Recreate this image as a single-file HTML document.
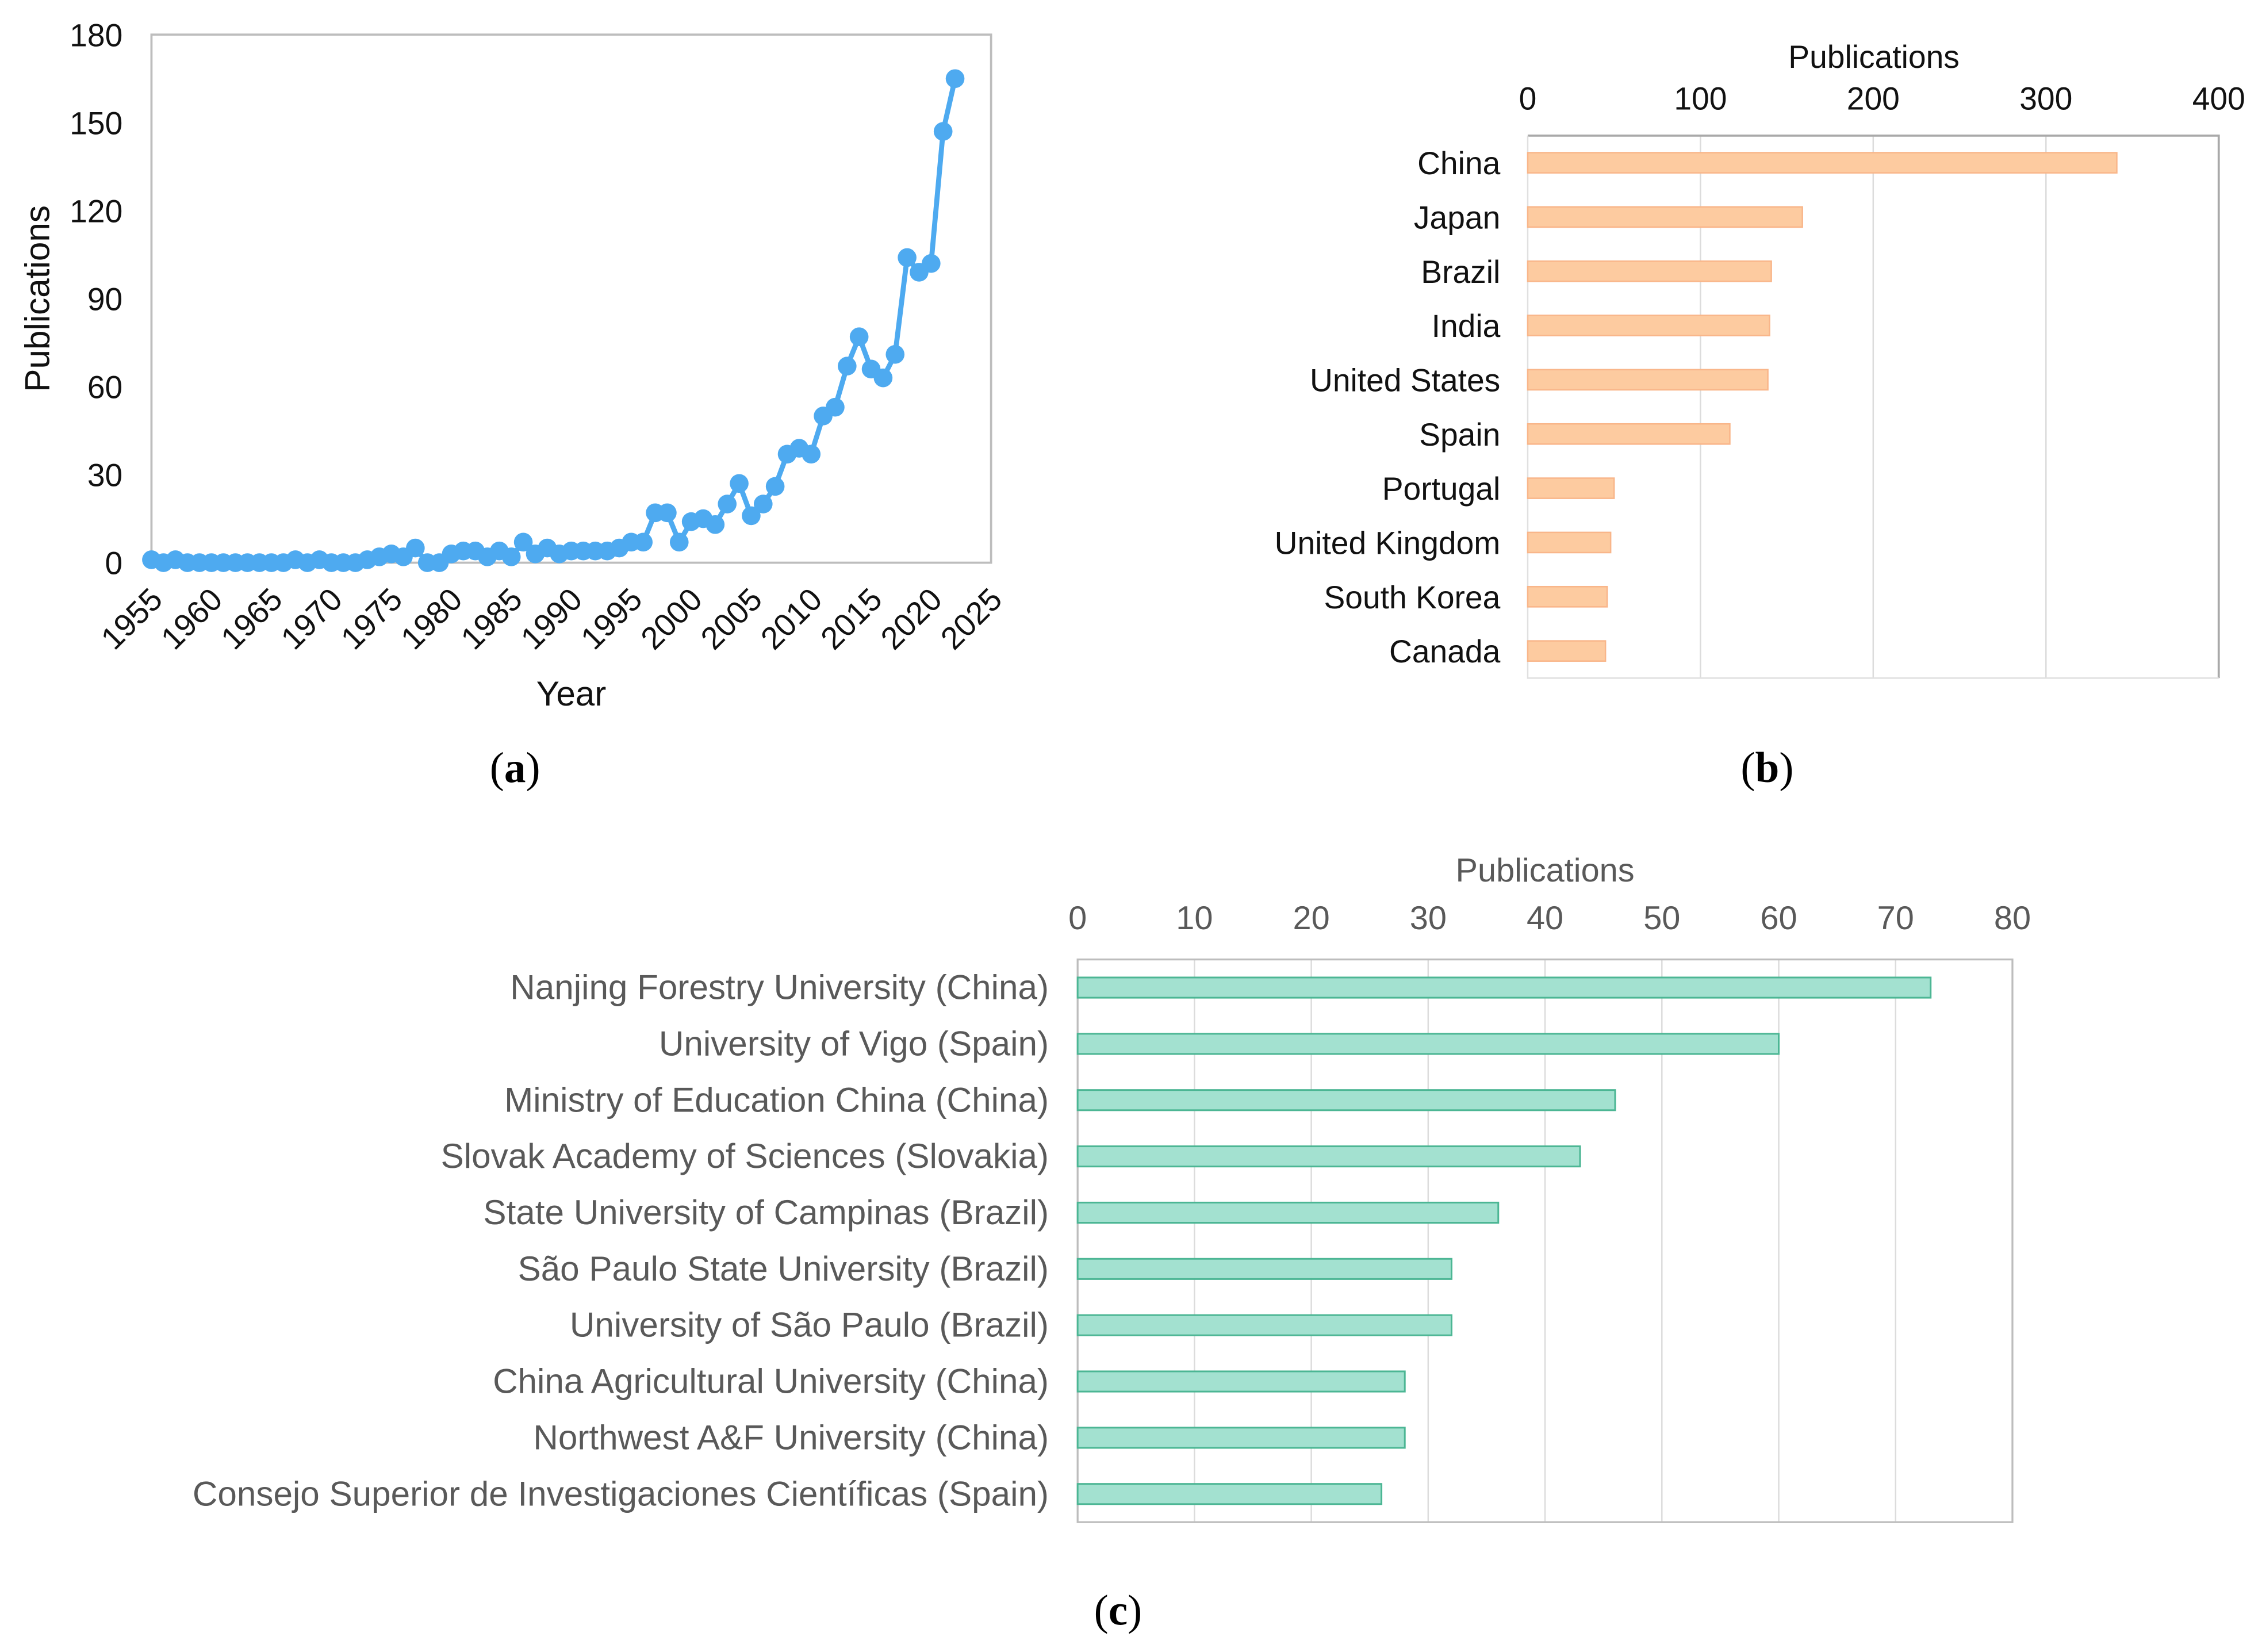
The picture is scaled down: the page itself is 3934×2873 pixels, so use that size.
<!DOCTYPE html>
<html><head><meta charset="utf-8">
<style>
html,body{margin:0;padding:0;background:#fff;}
svg{display:block;font-family:"Liberation Sans",sans-serif;}
</style></head>
<body>
<svg id="fig" width="3934" height="2873" viewBox="0 0 1568 1145" preserveAspectRatio="none" xmlns="http://www.w3.org/2000/svg">
<g id="pa"></g>
<g id="pb"></g>
<g id="pc"></g>
<text x="357" y="542" text-anchor="middle" font-family="Liberation Serif,serif" font-size="30">(<tspan font-weight="bold">a</tspan>)</text>
<text x="1225" y="542" text-anchor="middle" font-family="Liberation Serif,serif" font-size="30">(<tspan font-weight="bold">b</tspan>)</text>
<text x="775" y="1126" text-anchor="middle" font-family="Liberation Serif,serif" font-size="30">(<tspan font-weight="bold">c</tspan>)</text>
</svg>
<script>
const years = [1955,1956,1957,1958,1959,1960,1961,1962,1963,1964,1965,1966,1967,1968,1969,1970,1971,1972,1973,1974,1975,1976,1977,1978,1979,1980,1981,1982,1983,1984,1985,1986,1987,1988,1989,1990,1991,1992,1993,1994,1995,1996,1997,1998,1999,2000,2001,2002,2003,2004,2005,2006,2007,2008,2009,2010,2011,2012,2013,2014,2015,2016,2017,2018,2019,2020,2021,2022];
const pubs = [1,0,1,0,0,0,0,0,0,0,0,0,1,0,1,0,0,0,1,2,3,2,5,0,0,3,4,4,2,4,2,7,3,5,3,4,4,4,4,5,7,7,17,17,7,14,15,13,20,27,16,20,26,37,39,37,50,53,67,77,66,63,71,104,99,102,147,165];
const yearTicks = [1955,1960,1965,1970,1975,1980,1985,1990,1995,2000,2005,2010,2015,2020,2025];
const pubTicks = [0,30,60,90,120,150,180];

const countries = ["China","Japan","Brazil","India","United States","Spain","Portugal","United Kingdom","South Korea","Canada"];
const countryPubs = [341,159,141,140,139,117,50,48,46,45];
const countryTicks = [0,100,200,300,400];

const institutions = ["Nanjing Forestry University (China)","University of Vigo (Spain)","Ministry of Education China (China)","Slovak Academy of Sciences (Slovakia)","State University of Campinas (Brazil)","São Paulo State University (Brazil)","University of São Paulo (Brazil)","China Agricultural University (China)","Northwest A&F University (China)","Consejo Superior de Investigaciones Científicas (Spain)"];
const instPubs = [73,60,46,43,36,32,32,28,28,26];
const instTicks = [0,10,20,30,40,50,60,70,80];

const NS="http://www.w3.org/2000/svg";
function mk(parent,tag,attrs,text){const e=document.createElementNS(NS,tag);for(const k in attrs)e.setAttribute(k,attrs[k]);if(text!==undefined)e.textContent=text;parent.appendChild(e);return e;}

// Panel a
(function(){
const g=document.getElementById('pa');
const L=105,R=687,T=24,B=390;
const xs=v=>L+(v-1955)/(2025-1955)*(R-L);
const ys=v=>B-v/180*(B-T);
let e=mk(g,'rect',{x:L,y:T,width:R-L,height:B-T,fill:'none',stroke:'#bdbdbd','stroke-width':1.5});


pubTicks.forEach(t=>{const tx=mk(g,'text',{x:L-20,y:ys(t)+8,'text-anchor':'end','font-size':22,fill:'#111'},String(t));

});
yearTicks.forEach(t=>{const tx=mk(g,'text',{transform:`translate(${xs(t)-2},${B+16}) rotate(-45)`,'text-anchor':'end','font-size':22,fill:'#111',dy:'0.7em'},String(t));

});
let t1=mk(g,'text',{x:396,y:489,'text-anchor':'middle','font-size':24,fill:'#111'},'Year');


let t2=mk(g,'text',{transform:'translate(34,207) rotate(-90)','text-anchor':'middle','font-size':24,fill:'#111'},'Publications');


const pts=years.map((y,i)=>xs(y).toFixed(2)+','+ys(pubs[i]).toFixed(2)).join(' ');
let pl=mk(g,'polyline',{points:pts,fill:'none',stroke:'#4eaaf0','stroke-width':3.5,'stroke-linejoin':'round'});


years.forEach((y,i)=>{const c=mk(g,'circle',{cx:xs(y),cy:ys(pubs[i]),r:6.5,fill:'#4eaaf0'});

});
})();

// Panel b
(function(){
const g=document.getElementById('pb');
const L=1059,R=1538,T=94,B=470;
const xs=v=>L+v/400*(R-L);
countryTicks.forEach(t=>{
 if(t>0&&t<400){const l=mk(g,'line',{x1:xs(t),x2:xs(t),y1:T,y2:B,stroke:'#dcdcdc','stroke-width':1});
 
 }
 const tx=mk(g,'text',{x:xs(t),y:76,'text-anchor':'middle','font-size':22,fill:'#111'},String(t));
 
 
});
let f=mk(g,'path',{d:`M${L},${T}H${R}V${B}`,fill:'none',stroke:'#a9a9a9','stroke-width':1.5});


let f2=mk(g,'path',{d:`M${L},${T}V${B}H${R}`,fill:'none',stroke:'#e0e0e0','stroke-width':1});


let tt=mk(g,'text',{x:1299,y:47,'text-anchor':'middle','font-size':22,fill:'#111'},'Publications');


const step=(B-T)/countries.length;
countries.forEach((c,i)=>{
 const cy=T+step*(i+0.5);
 const r=mk(g,'rect',{x:L,y:cy-7,width:xs(countryPubs[i])-L,height:14,fill:'#fdcba0',stroke:'#f9b68a','stroke-width':1});
 
 
 const tx=mk(g,'text',{x:1040,y:cy+8,'text-anchor':'end','font-size':22,fill:'#111'},c);
 
 
});
})();

// Panel c
(function(){
const g=document.getElementById('pc');
const L=747,R=1395,T=665,B=1055;
const xs=v=>L+v/80*(R-L);
instTicks.forEach(t=>{
 if(t>0&&t<80){const l=mk(g,'line',{x1:xs(t),x2:xs(t),y1:T,y2:B,stroke:'#dcdcdc','stroke-width':1});
 
 }
 const tx=mk(g,'text',{x:xs(t),y:644,'text-anchor':'middle','font-size':23,fill:'#595959'},String(t));
 
 
});
let f=mk(g,'rect',{x:L,y:T,width:R-L,height:B-T,fill:'none',stroke:'#bdbdbd','stroke-width':1.3});


let tt=mk(g,'text',{x:1071,y:611,'text-anchor':'middle','font-size':23,fill:'#595959'},'Publications');


const step=(B-T)/institutions.length;
institutions.forEach((c,i)=>{
 const cy=T+step*(i+0.5);
 const r=mk(g,'rect',{x:L,y:cy-7,width:xs(instPubs[i])-L,height:14,fill:'#a3e1d0',stroke:'#4cb694','stroke-width':1.2});
 
 
 const tx=mk(g,'text',{x:727,y:cy+8,'text-anchor':'end','font-size':24,fill:'#595959'},c);
 
 
});
})();
</script>
</body></html>
